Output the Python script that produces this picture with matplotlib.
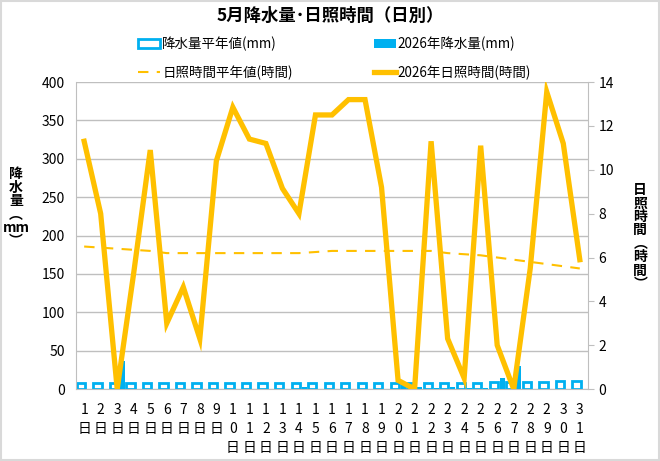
import numpy as np
import matplotlib
matplotlib.use('Agg')
import matplotlib.pyplot as plt

plt.rcParams['font.family'] = ['Noto Sans CJK JP', 'DejaVu Sans']

# データ
days = np.arange(1, 32)
rain_normal = [7.5, 7.5, 7.5, 7.5, 7.5, 7.5, 7.5, 7.5, 7.5, 7.5,
               7.5, 7.5, 7.5, 7.5, 7.5, 7.5, 7.5, 7.5, 7.5, 7.5,
               8, 8, 8.5, 8.5, 8.5, 9, 9, 9.5, 9.5, 10, 10.5]
rain_2026 = [0, 0, 36, 0, 0, 0, 0, 0, 0, 0,
             0, 0, 0, 3, 0, 0, 0, 0, 0, 5,
             3, 1, 3, 2, 2, 14, 30, 0, 0, 0, 0]
sun_normal = [6.5, 6.45, 6.4, 6.35, 6.3, 6.2, 6.2, 6.2, 6.2, 6.2,
              6.2, 6.2, 6.2, 6.2, 6.25, 6.3, 6.3, 6.3, 6.3, 6.3,
              6.3, 6.3, 6.2, 6.15, 6.1, 6.0, 5.9, 5.8, 5.7, 5.6, 5.5]
sun_2026 = [11.3, 8.0, 0, 5.3, 10.9, 3.0, 4.65, 2.3, 10.4, 12.85,
            11.4, 11.2, 9.15, 8.0, 12.5, 12.5, 13.2, 13.2, 9.2, 0.4,
            0, 11.3, 2.3, 0.5, 11.1, 2.0, 0, 5.5, 13.55, 11.2, 5.9]
xlabels = ['\n'.join(list(str(d))) + '\n日' for d in days]

blue = '#00B0F0'
orange = '#FFC000'
grey = '#BFBFBF'

fig = plt.figure(figsize=(6.6, 4.61), dpi=100)
ax = fig.add_axes([0.115, 0.156, 0.776, 0.666])

b1 = ax.bar(days - 0.2, rain_normal, width=0.5, color='white',
            edgecolor=blue, linewidth=2, zorder=2)
b2 = ax.bar(days + 0.32, rain_2026, width=0.3, color=blue, zorder=3)
ax.set_ylim(0, 400)
ax.set_xlim(0.5, 31.5)
ax.set_yticks(range(0, 401, 50))
ax.set_xticks(days)
ax.set_xticklabels(xlabels, fontsize=10, linespacing=1.45)
ax.tick_params(axis='x', length=0, pad=10)
ax.tick_params(axis='y', length=0, labelsize=10, pad=8)
ax.grid(axis='y', color=grey, linewidth=1, zorder=0)
ax.set_axisbelow(True)
for s in ['top', 'right']:
    ax.spines[s].set_visible(False)
ax.spines['left'].set_color(grey)
ax.spines['bottom'].set_color(grey)
ax.set_ylabel('降\n水\n量\n︵\nmm\n︶', rotation=0, fontsize=10,
              fontweight='bold', linespacing=0.95, va='center', ha='center')
ax.yaxis.set_label_coords(-0.117, 0.59)

ax2 = ax.twinx()
l1, = ax2.plot(days, sun_normal, color=orange, linewidth=1.5,
               linestyle=(0, (5, 4)))
l2, = ax2.plot(days, sun_2026, color=orange, linewidth=3.8,
               solid_joinstyle='miter')
ax2.set_ylim(0, 14)
ax2.set_yticks(range(0, 15, 2))
ax2.tick_params(axis='y', length=4, color=grey, labelsize=10)
for s in ['top', 'left', 'bottom']:
    ax2.spines[s].set_visible(False)
ax2.spines['right'].set_color(grey)
ax2.set_ylabel('日\n照\n時\n間\n︵\n時\n間\n︶', rotation=0, fontsize=10,
               fontweight='bold', linespacing=0.95, va='center', ha='center')
ax2.yaxis.set_label_coords(1.102, 0.495)

fig.suptitle('5月降水量･日照時間（日別）', fontsize=12.5, fontweight='bold', y=0.985)
fig.legend([b1, l1, b2, l2],
           ['降水量平年値(mm)', '日照時間平年値(時間)', '2026年降水量(mm)', '2026年日照時間(時間)'],
           ncol=2, loc='upper left', bbox_to_anchor=(0.209, 0.921), frameon=False,
           fontsize=9.7, columnspacing=6.0, handlelength=1.65, handletextpad=0.15,
           labelspacing=1.08, borderpad=0, borderaxespad=0)

fig.patches.append(plt.Rectangle((0.002, 0.002), 0.996, 0.996, transform=fig.transFigure,
                                 fill=False, edgecolor='#D9D9D9', linewidth=1.5))
fig.savefig('out.png', dpi=100)
